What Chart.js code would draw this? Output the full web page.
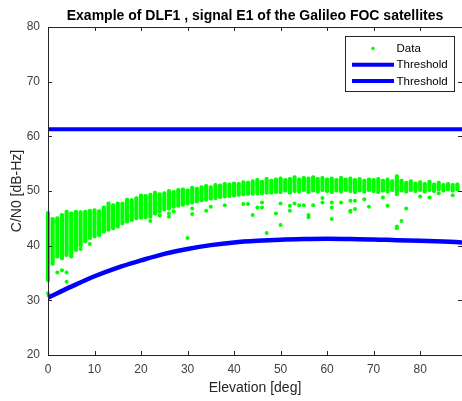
<!DOCTYPE html>
<html lang="en">
<head>
    <meta charset="UTF-8">
    <title>DLF1 C/N0 vs elevation</title>
    <style>
        body {
            margin: 0;
            background: #ffffff;
            overflow: hidden;
        }
        #wrap {
            position: relative;
            width: 466px;
            height: 401px;
        }
    </style>
</head>
<body>
    <div id="wrap"><canvas id="cn0"></canvas></div>

    <script src="https://cdn.jsdelivr.net/npm/chart.js"></script>
    <script>
        // elevation bins [deg] and the spread of measured C/N0 in each bin [dB-Hz]
        const elevation = [
            0, 1, 2, 3, 4, 5, 6, 7, 8, 9, 10, 11, 12, 13, 14, 15, 16, 17, 18, 19,
            20, 21, 22, 23, 24, 25, 26, 27, 28, 29, 30, 31, 32, 33, 34, 35, 36, 37, 38, 39,
            40, 41, 42, 43, 44, 45, 46, 47, 48, 49, 50, 51, 52, 53, 54, 55, 56, 57, 58, 59,
            60, 61, 62, 63, 64, 65, 66, 67, 68, 69, 70, 71, 72, 73, 74, 75, 76, 77, 78, 79,
            80, 81, 82, 83, 84, 85, 86, 87, 88
        ];
        const cn0Low = [
            33.4, 36.4, 37.7, 37.4, 38.0, 37.7, 38.9, 39.7, 40.5, 41.1, 41.4, 41.6, 42.3, 42.6, 42.9, 43.2, 43.8, 44.1, 44.4, 44.7,
            44.8, 44.9, 45.0, 45.6, 46.0, 46.3, 46.5, 46.8, 47.0, 47.2, 47.4, 47.6, 47.8, 48.0, 48.1, 48.3, 48.4, 48.6, 48.7, 48.8,
            48.9, 49.0, 49.1, 49.2, 49.2, 49.3, 49.3, 49.4, 49.4, 49.5, 49.5, 49.8, 49.4, 49.7, 49.6, 49.9, 49.5, 49.8, 49.6, 49.9,
            49.7, 49.5, 49.8, 49.6, 49.9, 49.7, 49.5, 49.8, 49.6, 49.9, 49.7, 49.5, 49.8, 49.6, 49.9, 49.5, 49.8, 49.6, 49.9, 49.7,
            49.9, 49.6, 49.9, 49.7, 50.0, 49.8, 50.0, 49.8, 50.0
        ];
        const cn0High = [
            46.3, 45.2, 45.3, 45.9, 46.5, 46.2, 46.5, 46.4, 46.5, 46.7, 46.8, 46.6, 47.3, 48.0, 47.7, 48.0, 48.0, 48.7, 48.6, 49.0,
            49.5, 49.4, 49.6, 50.0, 49.7, 49.9, 50.3, 50.1, 50.5, 50.6, 50.4, 50.9, 50.7, 51.0, 51.2, 51.0, 51.4, 51.3, 51.6, 51.5,
            51.7, 51.6, 51.9, 51.8, 52.1, 52.3, 52.0, 52.5, 52.2, 52.4, 52.6, 52.3, 52.5, 52.8, 52.4, 52.7, 52.6, 52.8, 52.5, 52.7,
            52.4, 52.6, 52.3, 52.7, 52.4, 52.6, 52.3, 52.5, 52.2, 52.4, 52.3, 52.5, 52.2, 52.4, 52.1, 53.0, 52.2, 51.8, 52.1, 51.7,
            51.9, 51.6, 52.0, 51.5, 51.8, 51.4, 51.6, 51.4, 51.5
        ];

        // isolated samples outside the main spread
        const outlierElev = [
            0, 2, 3, 4, 4, 7, 9, 22, 24, 26, 26, 27, 30, 31, 31, 34, 35, 38, 42, 43,
            44, 45, 46, 46, 47, 49, 50, 50, 52, 52, 53, 54, 55, 56, 56, 57, 59, 59, 61, 61,
            61, 63, 65, 65, 65, 66, 66, 68, 69, 72, 73, 75, 75, 75, 76, 77, 80, 82, 84, 87
        ];
        const outlierCn0 = [
            31.3, 35.1, 35.5, 35.1, 33.4, 39.4, 40.3, 44.5, 45.5, 45.9, 45.3, 46.3, 41.4, 46.8, 45.8, 46.4, 47.1, 47.4, 47.6, 47.6,
            45.6, 47.0, 47.9, 47.0, 42.3, 45.9, 43.8, 47.7, 46.4, 47.3, 47.7, 47.4, 47.4, 45.6, 45.2, 47.4, 48.7, 47.9, 47.9, 47.0,
            44.9, 47.9, 48.2, 46.4, 46.2, 48.2, 46.7, 48.5, 47.1, 48.8, 47.3, 43.2, 43.5, 49.4, 44.5, 46.8, 49.0, 48.8, 49.6, 49.2
        ];

        // threshold curves
        const thrElev = [0, 5, 10, 15, 20, 25, 30, 35, 40, 45, 50, 55, 60, 65, 70, 75, 80, 85, 89];
        const thrLow = [30.5, 32.5, 34.4, 36.0, 37.3, 38.5, 39.4, 40.1, 40.6, 40.9, 41.1, 41.2, 41.25, 41.2, 41.15, 41.0, 40.9, 40.75, 40.6];
        const thrHighElev = [0, 89];
        const thrHigh = [61.3, 61.3];

        const xTicks = [0, 10, 20, 30, 40, 50, 60, 70, 80];
        const yTicks = [20, 30, 40, 50, 60, 70, 80];

        const GREEN = '#00ff00';
        const BLUE = '#0000ff';
        const AXIS = '#262626';
        const FONT = "'Liberation Sans', Arial, sans-serif";

        // box around the axes with inward ticks on all four sides
        const frame = {
            id: 'frame',
            afterDatasetsDraw(chart) {
                const {ctx, chartArea: a, scales: {x, y}} = chart;
                ctx.save();
                ctx.strokeStyle = AXIS;
                ctx.lineWidth = 1;
                ctx.beginPath();
                ctx.rect(Math.round(a.left) + 0.5, Math.round(a.top) + 0.5,
                    Math.round(a.right - a.left), Math.round(a.bottom - a.top));
                const len = 4;
                xTicks.forEach(v => {
                    const px = Math.round(x.getPixelForValue(v)) + 0.5;
                    ctx.moveTo(px, a.bottom); ctx.lineTo(px, a.bottom - len);
                    ctx.moveTo(px, a.top); ctx.lineTo(px, a.top + len);
                });
                yTicks.forEach(v => {
                    const py = Math.round(y.getPixelForValue(v)) + 0.5;
                    ctx.moveTo(a.left, py); ctx.lineTo(a.left + len, py);
                    ctx.moveTo(a.right, py); ctx.lineTo(a.right - len, py);
                });
                ctx.stroke();
                ctx.restore();
            }
        };

        // title over the plot box
        const plotTitle = {
            id: 'plotTitle',
            afterDraw(chart) {
                const {ctx} = chart;
                ctx.save();
                ctx.fillStyle = '#000000';
                ctx.font = 'bold 14px ' + FONT;
                ctx.textAlign = 'center';
                ctx.textBaseline = 'alphabetic';
                ctx.fillText('Example of DLF1 , signal E1 of the Galileo FOC satellites', 255, 19.5);
                ctx.restore();
            }
        };

        // boxed legend in the upper right corner of the axes
        const boxLegend = {
            id: 'boxLegend',
            afterDraw(chart) {
                const {ctx} = chart;
                const bx = 345, by = 36, bw = 109, bh = 55;
                ctx.save();
                ctx.fillStyle = '#ffffff';
                ctx.fillRect(bx, by, bw, bh);
                ctx.strokeStyle = AXIS;
                ctx.lineWidth = 1;
                ctx.strokeRect(bx + 0.5, by + 0.5, bw, bh);

                ctx.font = '11.5px ' + FONT;
                ctx.textBaseline = 'middle';
                ctx.textAlign = 'left';
                const rows = chart.data.datasets.filter(d => d.label);
                rows.sort((p, q) => p.legendRank - q.legendRank);
                rows.forEach((d, i) => {
                    const cy = by + 12.5 + i * 16.3;
                    if (d.legendRank === 0) {
                        ctx.fillStyle = GREEN;
                        ctx.beginPath();
                        ctx.arc(373, cy, 1.8, 0, Math.PI * 2);
                        ctx.fill();
                    } else {
                        ctx.strokeStyle = d.borderColor;
                        ctx.lineWidth = 4;
                        ctx.beginPath();
                        ctx.moveTo(352, cy);
                        ctx.lineTo(394, cy);
                        ctx.stroke();
                    }
                    ctx.fillStyle = '#000000';
                    ctx.fillText(d.label, 396.5, cy + 0.5);
                });
                ctx.restore();
            }
        };

        const bands = elevation.map((e, i) => ({x: e, y: [cn0Low[i], cn0High[i]]}));
        const outliers = outlierElev.map((e, i) => ({x: e, y: outlierCn0[i]}));
        const lowCurve = thrElev.map((e, i) => ({x: e, y: thrLow[i]}));
        const highLine = thrHighElev.map((e, i) => ({x: e, y: thrHigh[i]}));

        new Chart(document.getElementById('cn0'), {
            type: 'scatter',
            data: {
                datasets: [
                    {
                        type: 'line',
                        label: 'Threshold',
                        legendRank: 1,
                        data: highLine,
                        borderColor: BLUE,
                        borderWidth: 4,
                        pointRadius: 0,
                        order: 0
                    },
                    {
                        type: 'line',
                        label: 'Threshold',
                        legendRank: 2,
                        data: lowCurve,
                        borderColor: BLUE,
                        borderWidth: 4.5,
                        pointRadius: 0,
                        cubicInterpolationMode: 'monotone',
                        clip: 3,
                        order: 1
                    },
                    {
                        type: 'bar',
                        label: 'Data',
                        legendRank: 0,
                        data: bands,
                        backgroundColor: GREEN,
                        borderWidth: 0,
                        borderRadius: 1.7,
                        borderSkipped: false,
                        barThickness: 3.5,
                        grouped: false,
                        clip: 3,
                        order: 2
                    },
                    {
                        data: outliers,
                        backgroundColor: GREEN,
                        borderWidth: 0,
                        pointRadius: 2,
                        clip: 3,
                        order: 3
                    }
                ]
            },
            options: {
                responsive: true,
                maintainAspectRatio: false,
                animation: false,
                layout: { padding: { top: 27, right: 2, left: 0, bottom: 0 } },
                plugins: {
                    legend: { display: false },
                    title: { display: false },
                    tooltip: { enabled: false }
                },
                scales: {
                    x: {
                        type: 'linear',
                        min: 0,
                        max: 89,
                        offset: false,
                        grid: { display: false, drawTicks: false },
                        border: { display: false },
                        afterFit: s => { s.height = 46; },
                        afterBuildTicks: s => { s.ticks = xTicks.map(v => ({value: v})); },
                        ticks: { color: '#404040', font: { family: FONT, size: 12 }, padding: 7, maxRotation: 0 },
                        title: {
                            display: true,
                            text: 'Elevation [deg]',
                            color: '#262626',
                            font: { family: FONT, size: 14 },
                            padding: { top: 0, bottom: 4 }
                        }
                    },
                    y: {
                        min: 20,
                        max: 80,
                        grid: { display: false, drawTicks: false },
                        border: { display: false },
                        afterFit: s => { s.width = 48; },
                        afterBuildTicks: s => { s.ticks = yTicks.map(v => ({value: v})); },
                        ticks: { color: '#404040', font: { family: FONT, size: 12 }, padding: 8 },
                        title: {
                            display: true,
                            text: 'C/N0 [dB-Hz]',
                            color: '#262626',
                            font: { family: FONT, size: 14 },
                            padding: { top: 9, bottom: 0 }
                        }
                    }
                }
            },
            plugins: [frame, plotTitle, boxLegend]
        });
    </script>
</body>
</html>
